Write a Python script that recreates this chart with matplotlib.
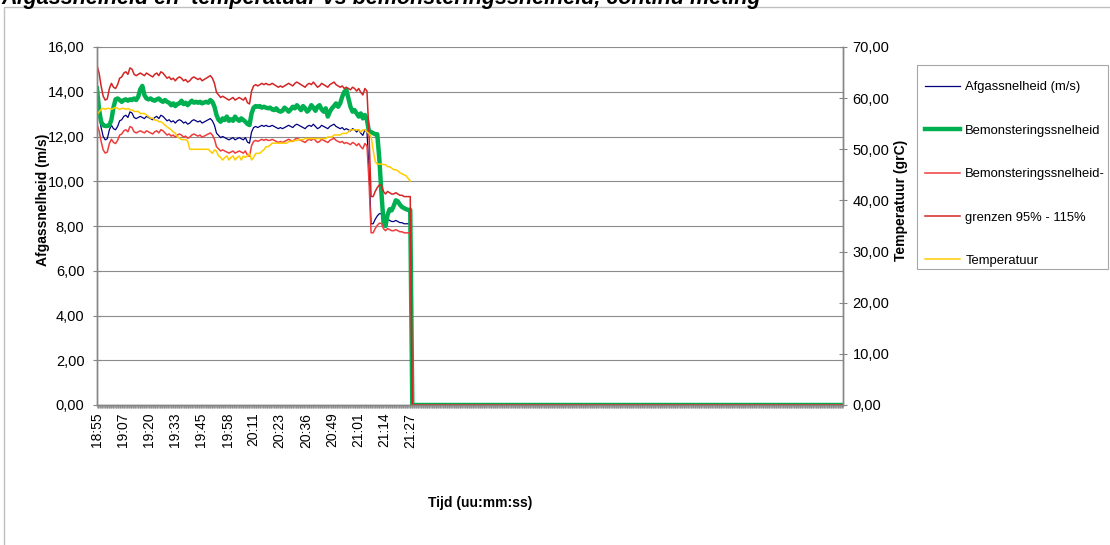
import numpy as np
import matplotlib
matplotlib.use("Agg")
import matplotlib.pyplot as plt
from matplotlib.ticker import MultipleLocator, FixedLocator, FuncFormatter
from matplotlib.patches import Rectangle

plt.rcParams['font.family'] = ['Liberation Sans', 'DejaVu Sans']

# ---- data -------------------------------------------------------------
title = "Afgassnelheid en  temperatuur vs bemonsteringssnelheid, continu meting"
time_labels = ["18:55", "19:07", "19:20", "19:33", "19:45", "19:58", "20:11",
               "20:23", "20:36", "20:49", "21:01", "21:14", "21:27"]

sample_step_min = 1.0          # one reading per minute
label_step_min = 760 / 60      # time labels every 12 min 40 s
category_step_min = 20 / 60    # logger interval (axis tick marks)
axis_span_min = 362            # length of the time axis (incl. empty tail)

# Afgassnelheid (m/s)
afgas = [13.2, 12.9, 12.4, 12.0, 11.85, 11.9, 12.3, 12.5, 12.35, 12.3,
         12.45, 12.7, 12.75, 12.9, 12.95, 12.85, 13.1, 13.05, 12.85, 12.8,
         12.85, 12.9, 12.85, 12.8, 12.9, 12.85, 12.8, 12.75, 12.85, 12.9,
         12.8, 12.95, 12.9, 12.8, 12.7, 12.75, 12.65, 12.7, 12.6, 12.7,
         12.75, 12.7, 12.6, 12.65, 12.55, 12.6, 12.7, 12.75, 12.7, 12.65,
         12.7, 12.6, 12.65, 12.7, 12.75, 12.8, 12.7, 12.5, 12.15, 12.05,
         11.95, 12.0, 11.95, 11.9, 11.85, 11.9, 11.95, 11.85, 11.9, 11.95,
         11.9, 11.85, 11.95, 11.75, 11.7, 12.2, 12.4, 12.45, 12.4, 12.45,
         12.5, 12.45, 12.5, 12.45, 12.45, 12.5, 12.45, 12.4, 12.35, 12.4,
         12.35, 12.4, 12.45, 12.5, 12.45, 12.4, 12.5, 12.55, 12.5, 12.45,
         12.4, 12.35, 12.45, 12.5, 12.45, 12.55, 12.45, 12.35, 12.4, 12.5,
         12.45, 12.4, 12.35, 12.45, 12.5, 12.55, 12.45, 12.4, 12.35, 12.4,
         12.3, 12.35, 12.3, 12.25, 12.35, 12.3, 12.2, 12.3, 12.15, 12.05,
         12.3, 12.2, 10.5, 8.1, 8.1, 8.3, 8.45, 8.55, 8.55, 8.3,
         8.2, 8.3, 8.25, 8.2, 8.2, 8.25, 8.2, 8.15, 8.15, 8.1,
         8.1, 8.1, 8.1]

# Bemonsteringssnelheid (m/s)
bemonstering = [14.15, 13.2, 12.66, 12.5, 12.47, 12.47, 12.5, 12.75, 13.3, 13.66,
                13.7, 13.63, 13.55, 13.63, 13.66, 13.6, 13.66, 13.63, 13.7, 13.63,
                13.78, 14.11, 14.26, 13.85, 13.7, 13.66, 13.7, 13.63, 13.6, 13.66,
                13.7, 13.6, 13.55, 13.63, 13.55, 13.51, 13.4, 13.48, 13.36, 13.45,
                13.48, 13.6, 13.45, 13.51, 13.4, 13.51, 13.6, 13.51, 13.55, 13.51,
                13.55, 13.48, 13.52, 13.55, 13.51, 13.63, 13.55, 13.33, 12.96, 12.74,
                12.66, 12.81, 12.74, 12.89, 12.7, 12.77, 12.7, 12.89, 12.77, 12.7,
                12.81, 12.74, 12.66, 12.56, 12.51, 13.03, 13.29, 13.36, 13.33, 13.36,
                13.29, 13.33, 13.29, 13.26, 13.29, 13.21, 13.18, 13.26, 13.15, 13.11,
                13.15, 13.29, 13.21, 13.11, 13.21, 13.33, 13.26, 13.4, 13.29, 13.18,
                13.36, 13.26, 13.11, 13.21, 13.4, 13.29, 13.15, 13.33, 13.4, 13.21,
                13.11, 13.26, 12.89, 13.11, 13.26, 13.36, 13.48, 13.33, 13.48, 13.78,
                14.0, 14.08, 13.7, 13.33, 13.11, 13.18, 13.03, 12.89, 13.03, 12.81,
                12.96, 12.74, 12.21, 12.2, 12.15, 12.1, 12.1, 11.0, 9.5, 8.2,
                8.0, 8.5, 8.75, 8.7, 8.9, 9.15, 9.1, 8.95, 8.85, 8.8,
                8.75, 8.72, 8.72]

# Temperatuur (grC)
temperatuur = [56.8, 57.3, 57.8, 58.0, 57.8, 58.0, 58.0, 57.8, 58.0, 58.2,
               58.0, 57.8, 58.0, 58.0, 57.8, 58.0, 57.7, 57.7, 57.4, 57.4,
               57.4, 57.0, 57.0, 57.0, 56.7, 56.4, 56.1, 56.1, 55.7, 55.7,
               55.4, 55.4, 55.1, 54.7, 54.4, 54.1, 53.8, 53.4, 53.1, 52.5,
               52.2, 51.9, 51.9, 51.9, 51.6, 50.0, 50.0, 50.0, 50.0, 50.0,
               50.0, 50.0, 50.0, 50.0, 50.0, 49.6, 49.2, 49.9, 49.6, 48.7,
               48.4, 47.9, 48.4, 48.7, 47.9, 48.4, 48.7, 47.9, 48.4, 48.7,
               47.9, 48.7, 48.4, 48.7, 49.2, 47.9, 48.4, 49.2, 49.2, 49.2,
               49.6, 49.9, 50.5, 50.5, 50.8, 51.2, 51.2, 51.2, 51.2, 51.2,
               51.2, 51.2, 51.2, 51.5, 51.5, 51.7, 51.7, 51.7, 51.9, 51.9,
               51.9, 52.1, 52.1, 52.1, 52.1, 52.1, 52.1, 52.1, 52.1, 52.1,
               52.1, 52.1, 52.4, 52.4, 52.4, 52.8, 52.8, 52.8, 52.8, 53.1,
               53.1, 53.1, 53.4, 53.8, 53.8, 53.8, 53.8, 53.8, 53.4, 53.8,
               53.8, 53.4, 53.1, 52.5, 49.9, 47.6, 47.1, 47.1, 47.1, 47.0,
               47.0, 46.6, 46.6, 46.3, 46.0, 46.0, 45.8, 45.4, 45.2, 45.0,
               44.8, 44.3, 43.8]

# sampling-speed limits relative to the flue-gas velocity
lower_factor = 0.95
upper_factor = 1.15

series_names = ["Afgassnelheid (m/s)", "Bemonsteringssnelheid",
                "Bemonsteringssnelheid-", "grenzen 95% - 115%", "Temperatuur"]

# ---- prepare series ---------------------------------------------------
n_meas = len(afgas)
t_meas = np.arange(n_meas) * sample_step_min
t_all = np.arange(0, axis_span_min + sample_step_min, sample_step_min)
tail = np.zeros(len(t_all) - n_meas)   # logger records 0 after stop

afgas_all = np.concatenate([afgas, tail])
bemon_all = np.concatenate([bemonstering, tail])
lower_all = afgas_all * lower_factor
upper_all = afgas_all * upper_factor

# ---- figure -----------------------------------------------------------
W, H = 1110, 545
fig = plt.figure(figsize=(W / 100, H / 100), dpi=100)
fig.patch.set_facecolor('white')

# chart border
fig.patches.append(Rectangle((4 / W, -0.05), 1.2, (H - 7) / H + 0.05,
                             transform=fig.transFigure, fill=False,
                             edgecolor='#BFBFBF', lw=1.0, zorder=0))

fig.text(1 / W, 1 - 4 / H, title, fontsize=15.5, fontweight='bold',
         fontstyle='italic', ha='left', va='baseline')

ax = fig.add_axes([97 / W, 1 - 405 / H, 746 / W, 358 / H])
ax2 = ax.twinx()

grid_col = '#8C8C8C'
axis_col = '#868686'

l1, = ax.plot(t_all, afgas_all, color='#000080', lw=0.9, label=series_names[0])
l2, = ax.plot(t_all, bemon_all, color='#00B050', lw=3.2, label=series_names[1])
l3, = ax.plot(t_all, lower_all, color='#F03C3C', lw=1.1, label=series_names[2])
l4, = ax.plot(t_all, upper_all, color='#D42424', lw=1.1, label=series_names[3])
l5, = ax2.plot(t_meas, temperatuur, color='#FFCC00', lw=1.1, label=series_names[4])

comma = FuncFormatter(lambda v, p: f"{v:.2f}".replace('.', ','))

ax.set_xlim(0, axis_span_min)
ax.set_ylim(0, 16)
ax.yaxis.set_major_locator(MultipleLocator(2))
ax.yaxis.set_major_formatter(comma)
ax2.set_ylim(0, 70)
ax2.yaxis.set_major_locator(MultipleLocator(10))
ax2.yaxis.set_major_formatter(comma)

ax.grid(axis='y', color=grid_col, lw=0.8)
ax.set_axisbelow(True)

ax.xaxis.set_major_locator(FixedLocator(np.arange(len(time_labels)) * label_step_min))
ax.set_xticklabels(time_labels, rotation=90)
ax.xaxis.set_minor_locator(MultipleLocator(category_step_min))

for a in (ax, ax2):
    a.spines['top'].set_visible(False)
    for s in ('left', 'right', 'bottom'):
        a.spines[s].set_color(axis_col)
        a.spines[s].set_linewidth(1.0)

ax.tick_params(axis='x', which='both', direction='out', length=2.5, width=0.5,
               color=axis_col, labelsize=10, pad=3)
ax.tick_params(axis='y', direction='inout', length=6, width=0.8,
               color=axis_col, labelsize=10.5, pad=6)
ax2.tick_params(axis='y', direction='inout', length=6, width=0.8,
                color=axis_col, labelsize=10.5, pad=4)

ax.set_ylabel("Afgassnelheid (m/s)", fontsize=10, fontweight='bold')
ax.yaxis.set_label_coords((50 - 97) / 746, (405 - 200) / 358)
ax2.set_ylabel("Temperatuur (grC)", fontsize=10, fontweight='bold', rotation=90)
ax2.yaxis.set_label_coords((894 - 97) / 746, (405 - 200) / 358)
ax.set_xlabel("Tijd (uu:mm:ss)", fontsize=10, fontweight='bold', va='center')
ax.xaxis.set_label_coords((480 - 97) / 746, (405 - 503) / 358)

# legend entries (frame drawn separately as a fixed box)
leg = fig.legend([l1, l2, l3, l4, l5], series_names, loc='upper left',
                 bbox_to_anchor=(925 / W, 1 - 81 / H), bbox_transform=fig.transFigure,
                 borderaxespad=0, frameon=False,
                 fontsize=9.4, labelspacing=2.4, handlelength=2.68,
                 handletextpad=0.4, borderpad=0)
fig.patches.append(Rectangle((917 / W, 1 - 269 / H), (1108 - 917) / W, (269 - 65) / H,
                             transform=fig.transFigure, fill=False,
                             edgecolor='#A6A6A6', lw=0.8))

fig.savefig('out.png', dpi=100)
